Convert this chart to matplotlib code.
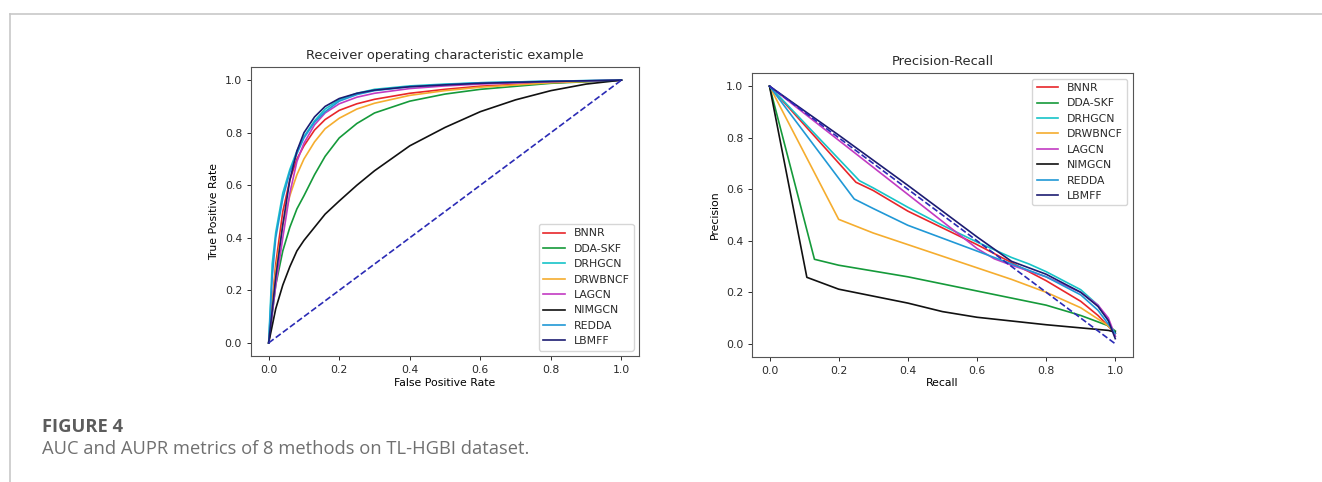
import matplotlib.pyplot as plt
from matplotlib.lines import Line2D

# method names and colours (same order in both panels)
methods = ['BNNR', 'DDA-SKF', 'DRHGCN', 'DRWBNCF', 'LAGCN', 'NIMGCN', 'REDDA', 'LBMFF']
colors = ['#e8262a', '#159a3a', '#17c4c8', '#f5ad2f', '#c23bc2', '#111111', '#2098d6', '#1c1c72']

# ROC curves: (fpr list, tpr list)
roc_bnnr_x = [0, 0.02, 0.04, 0.06, 0.08, 0.1, 0.13, 0.16, 0.2, 0.25, 0.3, 0.4, 0.5, 0.6, 0.8, 1.0]
roc_bnnr_y = [0, 0.30, 0.50, 0.62, 0.70, 0.75, 0.81, 0.85, 0.885, 0.91, 0.927, 0.95, 0.965, 0.977, 0.99, 1.0]
roc_dda_x = [0, 0.02, 0.04, 0.06, 0.08, 0.1, 0.13, 0.16, 0.2, 0.25, 0.3, 0.4, 0.5, 0.6, 0.8, 1.0]
roc_dda_y = [0, 0.22, 0.35, 0.44, 0.51, 0.56, 0.64, 0.71, 0.78, 0.835, 0.875, 0.92, 0.947, 0.965, 0.988, 1.0]
roc_drhgcn_x = [0, 0.01, 0.02, 0.04, 0.06, 0.08, 0.1, 0.13, 0.16, 0.2, 0.25, 0.3, 0.4, 0.5, 0.6, 0.8, 1.0]
roc_drhgcn_y = [0, 0.30, 0.42, 0.57, 0.66, 0.73, 0.785, 0.845, 0.89, 0.925, 0.95, 0.965, 0.978, 0.985, 0.99, 0.996, 1.0]
roc_drwbncf_x = [0, 0.02, 0.04, 0.06, 0.08, 0.1, 0.13, 0.16, 0.2, 0.25, 0.3, 0.4, 0.5, 0.6, 0.8, 1.0]
roc_drwbncf_y = [0, 0.28, 0.45, 0.56, 0.64, 0.70, 0.765, 0.815, 0.855, 0.89, 0.912, 0.942, 0.96, 0.973, 0.99, 1.0]
roc_lagcn_x = [0, 0.02, 0.04, 0.06, 0.08, 0.1, 0.13, 0.16, 0.2, 0.25, 0.3, 0.4, 0.5, 0.6, 0.8, 1.0]
roc_lagcn_y = [0, 0.22, 0.40, 0.57, 0.69, 0.76, 0.83, 0.875, 0.91, 0.935, 0.95, 0.968, 0.978, 0.985, 0.994, 1.0]
roc_nimgcn_x = [0, 0.02, 0.04, 0.06, 0.08, 0.1, 0.13, 0.16, 0.2, 0.25, 0.3, 0.4, 0.5, 0.6, 0.7, 0.8, 0.9, 1.0]
roc_nimgcn_y = [0, 0.13, 0.22, 0.29, 0.35, 0.39, 0.44, 0.49, 0.54, 0.60, 0.655, 0.75, 0.82, 0.88, 0.925, 0.96, 0.985, 1.0]
roc_redda_x = [0, 0.01, 0.02, 0.04, 0.06, 0.08, 0.1, 0.13, 0.16, 0.2, 0.25, 0.3, 0.4, 0.5, 0.6, 0.8, 1.0]
roc_redda_y = [0, 0.25, 0.40, 0.55, 0.65, 0.72, 0.78, 0.84, 0.88, 0.92, 0.945, 0.96, 0.975, 0.983, 0.99, 0.996, 1.0]
roc_lbmff_x = [0, 0.02, 0.04, 0.06, 0.08, 0.1, 0.13, 0.16, 0.2, 0.25, 0.3, 0.4, 0.5, 0.6, 0.8, 1.0]
roc_lbmff_y = [0, 0.25, 0.45, 0.62, 0.73, 0.80, 0.86, 0.90, 0.93, 0.95, 0.962, 0.975, 0.982, 0.988, 0.995, 1.0]

# PR curves: (recall list, precision list)
pr_bnnr_x = [0, 0.25, 0.3, 0.4, 0.5, 0.6, 0.7, 0.8, 0.9, 0.95, 1.0]
pr_bnnr_y = [1.0, 0.627, 0.595, 0.515, 0.45, 0.385, 0.315, 0.245, 0.165, 0.11, 0.04]
pr_dda_x = [0, 0.13, 0.2, 0.4, 0.6, 0.8, 0.9, 0.98, 1.0]
pr_dda_y = [1.0, 0.328, 0.305, 0.26, 0.205, 0.15, 0.11, 0.07, 0.05]
pr_drhgcn_x = [0, 0.26, 0.3, 0.4, 0.5, 0.6, 0.7, 0.75, 0.8, 0.9, 0.95, 0.98, 1.0]
pr_drhgcn_y = [1.0, 0.633, 0.605, 0.53, 0.46, 0.395, 0.335, 0.31, 0.28, 0.21, 0.15, 0.09, 0.03]
pr_drwbncf_x = [0, 0.2, 0.3, 0.4, 0.5, 0.6, 0.7, 0.8, 0.9, 0.98, 1.0]
pr_drwbncf_y = [1.0, 0.483, 0.43, 0.385, 0.34, 0.295, 0.25, 0.20, 0.14, 0.07, 0.04]
pr_lagcn_x = [0, 0.2, 0.4, 0.6, 0.65, 0.7, 0.8, 0.9, 0.95, 0.98, 1.0]
pr_lagcn_y = [1.0, 0.79, 0.58, 0.37, 0.33, 0.305, 0.26, 0.20, 0.15, 0.10, 0.03]
pr_nimgcn_x = [0, 0.108, 0.2, 0.4, 0.5, 0.6, 0.8, 0.98, 1.0]
pr_nimgcn_y = [1.0, 0.258, 0.212, 0.158, 0.125, 0.103, 0.074, 0.052, 0.045]
pr_redda_x = [0, 0.245, 0.3, 0.4, 0.5, 0.6, 0.7, 0.8, 0.9, 0.95, 1.0]
pr_redda_y = [1.0, 0.562, 0.525, 0.46, 0.41, 0.36, 0.31, 0.26, 0.19, 0.13, 0.04]
pr_lbmff_x = [0, 0.2, 0.4, 0.6, 0.7, 0.8, 0.9, 0.95, 0.98, 1.0]
pr_lbmff_y = [1.0, 0.81, 0.615, 0.415, 0.32, 0.27, 0.20, 0.145, 0.09, 0.02]

roc_data = [(roc_bnnr_x, roc_bnnr_y), (roc_dda_x, roc_dda_y), (roc_drhgcn_x, roc_drhgcn_y),
            (roc_drwbncf_x, roc_drwbncf_y), (roc_lagcn_x, roc_lagcn_y), (roc_nimgcn_x, roc_nimgcn_y),
            (roc_redda_x, roc_redda_y), (roc_lbmff_x, roc_lbmff_y)]
pr_data = [(pr_bnnr_x, pr_bnnr_y), (pr_dda_x, pr_dda_y), (pr_drhgcn_x, pr_drhgcn_y),
           (pr_drwbncf_x, pr_drwbncf_y), (pr_lagcn_x, pr_lagcn_y), (pr_nimgcn_x, pr_nimgcn_y),
           (pr_redda_x, pr_redda_y), (pr_lbmff_x, pr_lbmff_y)]

fs = 7.8
plt.rcParams['font.family'] = 'DejaVu Sans'
plt.rcParams['text.color'] = '#2a2a2a'
plt.rcParams['xtick.color'] = '#2a2a2a'
plt.rcParams['ytick.color'] = '#2a2a2a'

fig = plt.figure(figsize=(13.22, 4.82), dpi=100)

# left panel: ROC
ax1 = fig.add_axes([0.1899, 0.2614, 0.2935, 0.5996])
for (xs, ys), name, c in zip(roc_data, methods, colors):
    ax1.plot(xs, ys, color=c, lw=1.2, label=name)
ax1.plot([0, 1], [0, 1], color='#2b2bb5', lw=1.2, linestyle='--')
ax1.set_xlim(-0.05, 1.05)
ax1.set_ylim(-0.05, 1.05)
ax1.set_title('Receiver operating characteristic example', fontsize=9.4)
ax1.set_xlabel('False Positive Rate', fontsize=fs, labelpad=2)
ax1.set_ylabel('True Positive Rate', fontsize=fs)
ax1.legend(loc='lower right', fontsize=fs)

# right panel: precision-recall
ax2 = fig.add_axes([0.569, 0.26, 0.2877, 0.588])
for (xs, ys), name, c in zip(pr_data, methods, colors):
    ax2.plot(xs, ys, color=c, lw=1.2, label=name)
ax2.plot([0, 1], [1, 0], color='#2b2bb5', lw=1.2, linestyle='--')
ax2.set_xlim(-0.05, 1.05)
ax2.set_ylim(-0.05, 1.05)
ax2.set_title('Precision-Recall', fontsize=9.4)
ax2.set_xlabel('Recall', fontsize=fs, labelpad=2)
ax2.set_ylabel('Precision', fontsize=fs)
ax2.legend(loc='upper right', fontsize=fs)

for ax in (ax1, ax2):
    ax.tick_params(labelsize=fs, width=0.7, length=3)
    for sp in ax.spines.values():
        sp.set_color('#555555')
        sp.set_linewidth(0.8)

# page frame and caption
fig.add_artist(Line2D([0.0072, 1.0], [0.970, 0.970], color='#c8c8c8', lw=1.2))
fig.add_artist(Line2D([0.0072, 0.0072], [0.0, 0.970], color='#c8c8c8', lw=1.2))
fig.text(0.0315, 0.1037, 'FIGURE 4', fontsize=13.2, fontweight='bold', color='#5c5c5c',
         family='Open Sans')
fig.text(0.0315, 0.058, 'AUC and AUPR metrics of 8 methods on TL-HGBI dataset.', fontsize=13.2,
         color='#707070', family='Open Sans')

fig.savefig('out.png', dpi=100)
